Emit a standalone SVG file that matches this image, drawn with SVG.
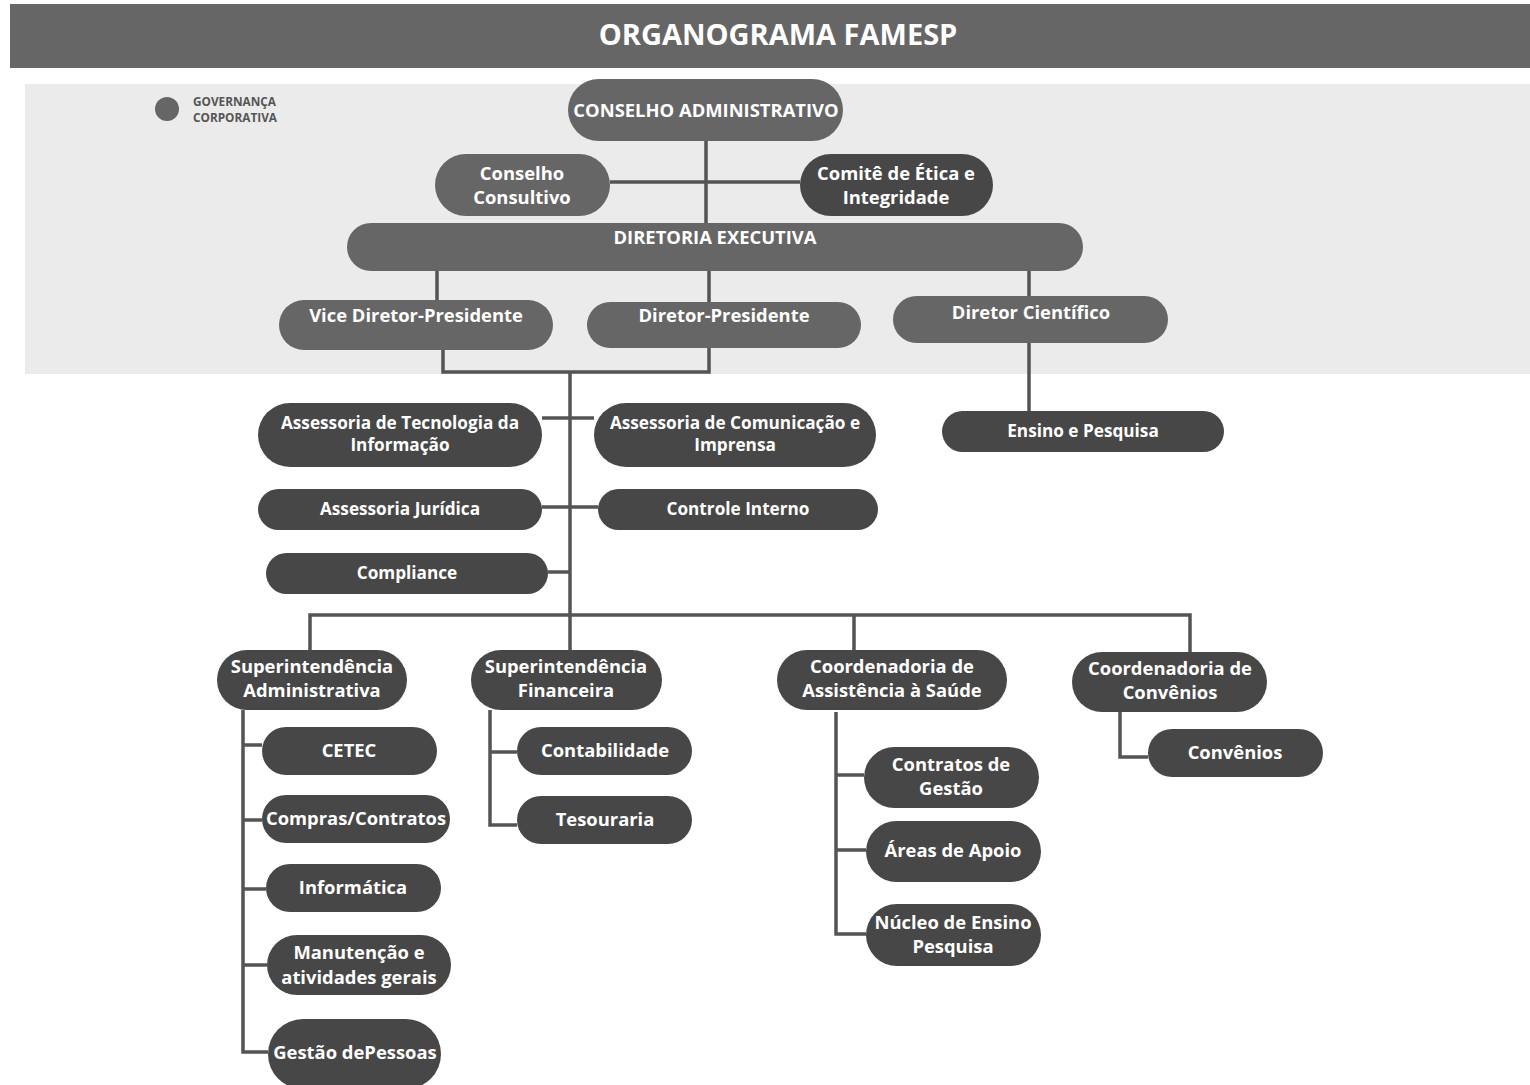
<svg xmlns="http://www.w3.org/2000/svg" width="1530" height="1085" viewBox="0 0 1530 1085">
<style>
.bg{fill:#ffffff}
.hdr{fill:#666666}
.band{fill:#ebebeb}
.n1{fill:#666666}
.n2{fill:#474747}
.c{stroke:#545454;stroke-width:3.5;fill:none;stroke-linejoin:miter}
.t{font-family:"Open Sans","Liberation Sans",sans-serif;font-weight:bold;fill:#ffffff;text-anchor:middle}
.tc{font-size:18.4px}
.ta{font-size:17.2px}
.tn{font-size:18.4px}
.title{font-family:"Open Sans","Liberation Sans",sans-serif;font-weight:bold;font-size:29px;fill:#ffffff;text-anchor:middle}
.leg{font-family:"Open Sans","Liberation Sans",sans-serif;font-weight:bold;font-size:11.8px;fill:#555555}
</style>
<rect class="bg" x="0" y="0" width="1530" height="1085"/>
<rect class="hdr" x="10" y="4" width="1520" height="64"/>
<text class="title" x="778" y="45">ORGANOGRAMA FAMESP</text>
<rect class="band" x="25" y="84" width="1505" height="290"/>
<g id="legend">
<circle cx="167" cy="109" r="12" fill="#666666"/>
<text class="leg" x="193" y="106">GOVERNANÇA</text>
<text class="leg" x="193" y="122">CORPORATIVA</text>
</g>
<g id="connectors">
<path class="c" d="M706 141V223"/>
<path class="c" d="M610 182H800"/>
<path class="c" d="M437 271V300M709 271V302M1029 271V296"/>
<path class="c" d="M443 350V372H709V348"/>
<path class="c" d="M570 372V615"/>
<path class="c" d="M1029 343V411"/>
<path class="c" d="M542 418H594"/>
<path class="c" d="M542 507H598"/>
<path class="c" d="M548 572H570"/>
<path class="c" d="M310 652V615H1190V652"/>
<path class="c" d="M570 615V650M854 615V650"/>
<path class="c" d="M243 710V1052H268M243 745H262M243 820H262M243 889H266M243 965H267"/>
<path class="c" d="M490 710V825H517M490 752H517"/>
<path class="c" d="M836 712V934H866M836 775H864M836 850H866"/>
<path class="c" d="M1120 712V757H1148"/>
</g>
<g id="n-conselho-adm"><rect class="n1" x="568" y="79" width="275" height="62" rx="31"/><text class="t tc" x="706" y="117">CONSELHO ADMINISTRATIVO</text></g>
<g id="n-conselho-consultivo"><rect class="n1" x="435" y="154" width="175" height="62" rx="31"/><text class="t tc" x="522" y="180">Conselho</text><text class="t tc" x="522" y="204">Consultivo</text></g>
<g id="n-comite"><rect class="n2" x="800" y="154" width="193" height="62" rx="31"/><text class="t tc" x="896" y="180">Comitê de Ética e</text><text class="t tc" x="896" y="204">Integridade</text></g>
<g id="n-diretoria"><rect class="n1" x="347" y="223" width="736" height="48" rx="24"/><text class="t tc" x="715" y="244">DIRETORIA EXECUTIVA</text></g>
<g id="n-vice"><rect class="n1" x="279" y="300" width="274" height="50" rx="25"/><text class="t tc" x="416" y="322">Vice Diretor-Presidente</text></g>
<g id="n-dirpres"><rect class="n1" x="587" y="302" width="274" height="46" rx="23"/><text class="t tc" x="724" y="322">Diretor-Presidente</text></g>
<g id="n-dircient"><rect class="n1" x="893" y="296" width="275" height="47" rx="23.5"/><text class="t tc" x="1031" y="319">Diretor Científico</text></g>
<g id="n-ati"><rect class="n2" x="258" y="403" width="284" height="64" rx="32"/><text class="t ta" x="400" y="429">Assessoria de Tecnologia da</text><text class="t ta" x="400" y="451">Informação</text></g>
<g id="n-aci"><rect class="n2" x="594" y="403" width="282" height="64" rx="32"/><text class="t ta" x="735" y="429">Assessoria de Comunicação e</text><text class="t ta" x="735" y="451">Imprensa</text></g>
<g id="n-ensino"><rect class="n2" x="942" y="411" width="282" height="41" rx="20.5"/><text class="t ta" x="1083" y="437">Ensino e Pesquisa</text></g>
<g id="n-juridica"><rect class="n2" x="258" y="489" width="284" height="41" rx="20.5"/><text class="t ta" x="400" y="515">Assessoria Jurídica</text></g>
<g id="n-controle"><rect class="n2" x="598" y="489" width="280" height="41" rx="20.5"/><text class="t ta" x="738" y="515">Controle Interno</text></g>
<g id="n-compliance"><rect class="n2" x="266" y="553" width="282" height="41" rx="20.5"/><text class="t ta" x="407" y="579">Compliance</text></g>
<g id="n-supadm"><rect class="n2" x="217" y="650" width="190" height="60" rx="30"/><text class="t tn" x="312" y="673">Superintendência</text><text class="t tn" x="312" y="697">Administrativa</text></g>
<g id="n-supfin"><rect class="n2" x="471" y="650" width="191" height="60" rx="30"/><text class="t tn" x="566" y="673">Superintendência</text><text class="t tn" x="566" y="697">Financeira</text></g>
<g id="n-coordsaude"><rect class="n2" x="777" y="650" width="230" height="60" rx="30"/><text class="t tn" x="892" y="673">Coordenadoria de</text><text class="t tn" x="892" y="697">Assistência à Saúde</text></g>
<g id="n-coordconv"><rect class="n2" x="1072" y="652" width="195" height="60" rx="30"/><text class="t tn" x="1170" y="675">Coordenadoria de</text><text class="t tn" x="1170" y="699">Convênios</text></g>
<g id="n-cetec"><rect class="n2" x="262" y="727" width="175" height="48" rx="24"/><text class="t tn" x="349" y="757">CETEC</text></g>
<g id="n-compras"><rect class="n2" x="262" y="795" width="188" height="48" rx="24"/><text class="t tn" x="356" y="825">Compras/Contratos</text></g>
<g id="n-informatica"><rect class="n2" x="266" y="864" width="175" height="48" rx="24"/><text class="t tn" x="353" y="894">Informática</text></g>
<g id="n-manutencao"><rect class="n2" x="267" y="935" width="184" height="60" rx="30"/><text class="t tn" x="359" y="959">Manutenção e</text><text class="t tn" x="359" y="984">atividades gerais</text></g>
<g id="n-gestao"><rect class="n2" x="268" y="1019" width="173" height="70" rx="35"/><text class="t tn" x="355" y="1059">Gestão dePessoas</text></g>
<g id="n-contab"><rect class="n2" x="517" y="727" width="175" height="48" rx="24"/><text class="t tn" x="605" y="757">Contabilidade</text></g>
<g id="n-tesouraria"><rect class="n2" x="517" y="796" width="175" height="48" rx="24"/><text class="t tn" x="605" y="826">Tesouraria</text></g>
<g id="n-contratos"><rect class="n2" x="864" y="747" width="175" height="61" rx="30.5"/><text class="t tn" x="951" y="771">Contratos de</text><text class="t tn" x="951" y="795">Gestão</text></g>
<g id="n-areas"><rect class="n2" x="866" y="821" width="175" height="61" rx="30.5"/><text class="t tn" x="953" y="857">Áreas de Apoio</text></g>
<g id="n-nucleo"><rect class="n2" x="866" y="904" width="175" height="62" rx="31"/><text class="t tn" x="953" y="929">Núcleo de Ensino</text><text class="t tn" x="953" y="953">Pesquisa</text></g>
<g id="n-convenios"><rect class="n2" x="1148" y="729" width="175" height="48" rx="24"/><text class="t tn" x="1235" y="759">Convênios</text></g>
</svg>
